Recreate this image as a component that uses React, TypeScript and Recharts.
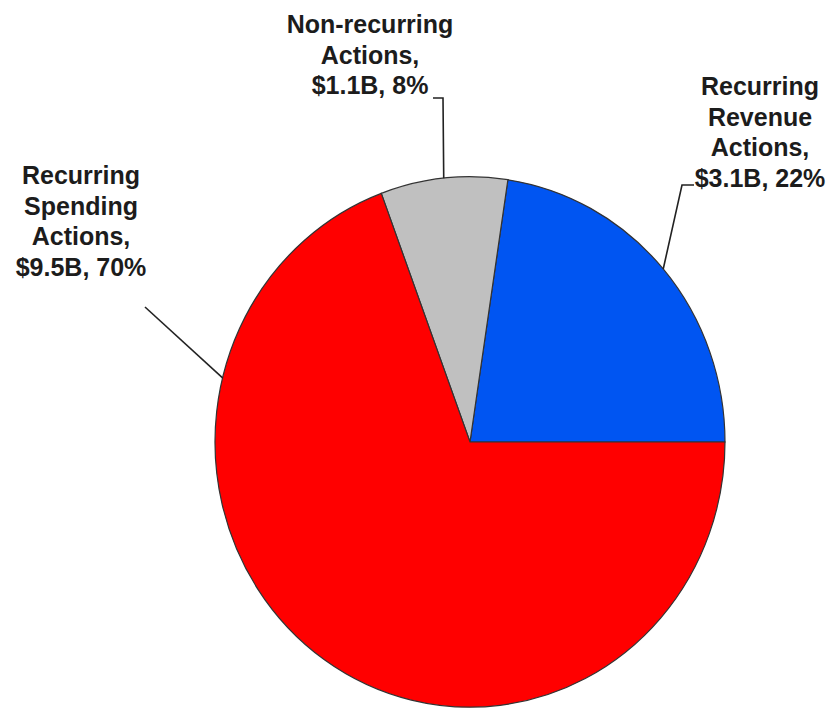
import { PieChart, Pie, Cell, Sector } from "recharts";

const sliceNames = ["Recurring Revenue Actions", "Non-recurring Actions", "Recurring Spending Actions"];
const billions = [3.1, 1.1, 9.5];
const percents = [22, 8, 70];
const nameLines = [
  ["Recurring", "Revenue", "Actions,"],
  ["Non-recurring", "Actions,"],
  ["Recurring", "Spending", "Actions,"],
];
const colors = ["#0055F2", "#C0C0C0", "#FF0000"];

const data = sliceNames.map((name, i) => ({ name, value: billions[i] }));

// the original pie is a touch taller than wide
const SY = 1.04;
const CX = 470;
const CY = 442;
const R = 255;

// where each label sits and how its leader line runs
const labelLayout = [
  { x: 760, y: 95, anchorAngle: null as number | null, elbow: [[682, 185], [694, 185]] },
  { x: 370, y: 33, anchorAngle: null as number | null, elbow: [[443, 98], [433, 98]] },
  { x: 81, y: 184, anchorAngle: 166, elbow: [[145, 307]] },
];

const RADIAN = Math.PI / 180;

// eslint-disable-next-line @typescript-eslint/no-explicit-any
function StretchedSector(props: any) {
  const { cy } = props;
  return (
    <g transform={`translate(0 ${cy * (1 - SY)}) scale(1 ${SY})`}>
      <Sector {...props} />
    </g>
  );
}

// eslint-disable-next-line @typescript-eslint/no-explicit-any
function SliceLabel(props: any) {
  const { cx, cy, midAngle, outerRadius, index } = props;
  const layout = labelLayout[index];
  const angle = layout.anchorAngle ?? midAngle;
  const ex = cx + outerRadius * Math.cos(-angle * RADIAN);
  const ey = cy + outerRadius * SY * Math.sin(-angle * RADIAN);
  const pts = [[ex, ey], ...layout.elbow];
  const lines = [...nameLines[index], `$${billions[index]}B, ${percents[index]}%`];
  return (
    <g>
      <polyline
        points={pts.map((p) => p.join(",")).join(" ")}
        fill="none"
        stroke="#222"
        strokeWidth={1.6}
      />
      <text
        x={layout.x}
        y={layout.y}
        textAnchor="middle"
        fontFamily="'Liberation Sans', Arial, sans-serif"
        fontWeight="bold"
        fontSize={25}
        fill="#1c1c1c"
      >
        {lines.map((l, i) => (
          <tspan key={i} x={layout.x} dy={i === 0 ? 0 : 30.7}>
            {l}
          </tspan>
        ))}
      </text>
    </g>
  );
}

export default function App() {
  return (
    <div style={{ position: "absolute", left: 0, top: 0, background: "#fff" }}>
      <PieChart width={831} height={710} margin={{ top: 0, right: 0, bottom: 0, left: 0 }}>
        <Pie
          data={data}
          dataKey="value"
          nameKey="name"
          cx={CX}
          cy={CY}
          outerRadius={R}
          startAngle={0}
          endAngle={360}
          stroke="#333"
          strokeWidth={1.2}
          label={SliceLabel}
          labelLine={false}
          shape={StretchedSector}
          inactiveShape={StretchedSector}
          activeShape={StretchedSector}
          isAnimationActive={false}
        >
          {data.map((d, i) => (
            <Cell key={d.name} fill={colors[i]} />
          ))}
        </Pie>
      </PieChart>
    </div>
  );
}
